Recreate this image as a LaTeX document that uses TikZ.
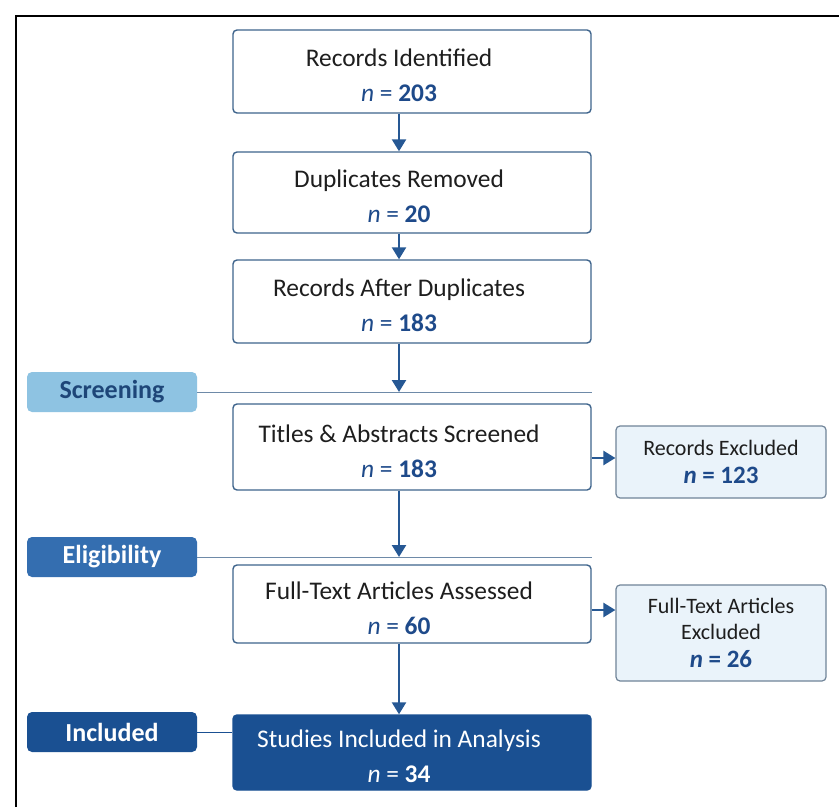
\documentclass[tikz,border=0pt]{standalone}
\usepackage{fontspec}
\setmainfont{Carlito}
\usetikzlibrary{arrows.meta}

\definecolor{boxline}{RGB}{62,100,140}
\definecolor{flowblue}{RGB}{38,88,148}
\definecolor{numblue}{RGB}{30,74,138}
\definecolor{txtdark}{RGB}{30,30,30}
\definecolor{exclfill}{RGB}{234,243,250}
\definecolor{excldraw}{RGB}{112,132,152}
\definecolor{screenfill}{RGB}{142,195,226}
\definecolor{screentxt}{RGB}{30,70,120}
\definecolor{eligfill}{RGB}{52,110,176}
\definecolor{inclfill}{RGB}{26,80,146}
\definecolor{sepline}{RGB}{110,138,168}

\newcommand{\nval}[1]{{\color{numblue}\textit{n} = \textbf{#1}}}
\newcommand{\nside}[1]{{\fontsize{12.5}{12.8}\selectfont\color{numblue}\textbf{\textit{n} = #1}}}
\newcommand{\nwhite}[1]{{\textit{n} = \textbf{#1}}}

\begin{document}
\begin{tikzpicture}[
x=0.5pt, y=-0.5pt,
mainbox/.style={rectangle, rounded corners=2pt, draw=boxline, line width=0.7pt, fill=white, minimum width=179pt},
boxtext/.style={align=center, xshift=-6.5pt, yshift=-2pt, text=txtdark, font=\fontsize{12.7}{17.5}\selectfont},
sidebox/.style={rectangle, rounded corners=2pt, draw=excldraw, line width=0.6pt, fill=exclfill, minimum width=105pt, align=center, text=txtdark, font=\fontsize{11}{12.8}\selectfont},
phasebox/.style={rectangle, rounded corners=2.5pt, minimum width=85pt, minimum height=20pt, font=\fontsize{13}{15}\selectfont\bfseries},
flow/.style={-{Triangle[width=7pt,length=6pt]}, draw=flowblue, line width=1.2pt},
phaseline/.style={draw=sepline, line width=0.5pt},
]
\useasboundingbox (0,0) rectangle (839,807);
\fill[white] (0,0) rectangle (839,807);
\draw[line width=1pt] (16,807) -- (16,16) -- (839,16);

%Nodes
\node[mainbox, minimum height=41.5pt, label={[boxtext]center:{Records Identified\\\nval{203}}}]       (rec)    at (412,71.5)  {};
\node[mainbox, minimum height=40.5pt, label={[boxtext]center:{Duplicates Removed\\\nval{20}}}]        (dup)    at (412,192.5) {};
\node[mainbox, minimum height=41.5pt, label={[boxtext]center:{Records After Duplicates\\\nval{183}}}]  (after)  at (412,301.5) {};
\node[mainbox, minimum height=43pt,   label={[boxtext]center:{Titles \& Abstracts Screened\\\nval{183}}}] (titles) at (412,447) {};
\node[mainbox, minimum height=39pt,   label={[boxtext]center:{Full-Text Articles Assessed\\\nval{60}}}] (full)   at (412,604)   {};
\node[mainbox, minimum height=37.5pt, fill=inclfill, draw=inclfill, label={[boxtext, text=white]center:{Studies Included in Analysis\\\nwhite{34}}}] (studies) at (412,752.5) {};
\node[sidebox, minimum height=36pt]   (recexcl) at (721,462)   {Records Excluded\\[1pt]\nside{123}};
\node[sidebox, minimum height=48pt]   (ftexcl)  at (721,633)   {Full-Text Articles\\Excluded\\[1pt]\nside{26}};
\node[phasebox, fill=screenfill, text=screentxt] (screening)   at (112,392)   {Screening};
\node[phasebox, fill=eligfill, text=white]       (eligibility) at (112,557)   {Eligibility};
\node[phasebox, fill=inclfill, text=white]       (included)    at (112,732)   {Included};
\coordinate (spine)  at (399,0);
\coordinate (scrend) at (592,392);
\coordinate (eliend) at (592,557);

%Lines
\draw[phaseline] (screening.east) -- (scrend);
\draw[phaseline] (eligibility.east) -- (eliend);
\draw[phaseline, draw=inclfill] (included.east) -- (studies.west |- included.east);
\draw[flow] (rec.south -| spine) -- (dup.north -| spine);
\draw[flow] (dup.south -| spine) -- (after.north -| spine);
\draw[flow] (after.south -| spine) -- (scrend -| spine);
\draw[flow] (titles.south -| spine) -- (eliend -| spine);
\draw[flow] (full.south -| spine) -- (studies.north -| spine);
\draw[flow] ([yshift=2pt]titles.east |- recexcl.west) -- ([yshift=2pt]recexcl.west);
\draw[flow] ([yshift=-3pt]full.east) -- ([yshift=-3pt]full.east -| ftexcl.west);
\end{tikzpicture}
\end{document}
